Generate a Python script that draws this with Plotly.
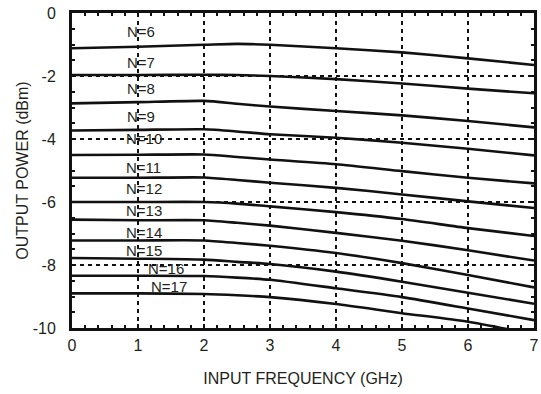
import plotly.graph_objects as go

freq = [0, 1, 2, 2.5, 3, 4, 5, 6, 7]
series_names = ["N=6", "N=7", "N=8", "N=9", "N=10", "N=11", "N=12", "N=13", "N=14", "N=15", "N=16", "N=17"]
n6 = [-1.12, -1.07, -1.01, -0.98, -1.01, -1.12, -1.25, -1.44, -1.65]
n7 = [-1.97, -1.97, -1.96, -1.97, -2.00, -2.10, -2.24, -2.40, -2.55]
n8 = [-2.87, -2.83, -2.79, -2.88, -2.97, -3.11, -3.25, -3.43, -3.63]
n9 = [-3.73, -3.71, -3.69, -3.76, -3.85, -3.96, -4.12, -4.31, -4.52]
n10 = [-4.51, -4.50, -4.49, -4.57, -4.65, -4.80, -5.02, -5.23, -5.41]
n11 = [-5.23, -5.23, -5.22, -5.30, -5.39, -5.55, -5.76, -5.98, -6.19]
n12 = [-6.00, -6.00, -6.00, -6.05, -6.14, -6.32, -6.54, -6.83, -7.08]
n13 = [-6.56, -6.58, -6.58, -6.66, -6.75, -6.98, -7.23, -7.53, -7.86]
n14 = [-7.22, -7.22, -7.22, -7.30, -7.39, -7.62, -7.94, -8.32, -8.71]
n15 = [-7.78, -7.80, -7.83, -7.90, -7.97, -8.21, -8.53, -8.88, -9.23]
n16 = [-8.34, -8.34, -8.35, -8.40, -8.47, -8.74, -9.02, -9.38, -9.75]
n17 = [-8.90, -8.90, -8.92, -8.96, -9.02, -9.24, -9.53, -9.80, -10.20]
all_series = [n6, n7, n8, n9, n10, n11, n12, n13, n14, n15, n16, n17]

label_x = [1.05, 1.05, 1.05, 1.05, 1.09, 1.09, 1.09, 1.09, 1.09, 1.09, 1.43, 1.47]
label_y = [-0.58, -1.56, -2.40, -3.27, -3.99, -4.91, -5.58, -6.26, -6.96, -7.55, -8.10, -8.67]

x_ticks = [0, 1, 2, 3, 4, 5, 6, 7]
x_ticktext = ["0", "1", "2", "3", "4", "5", "6", "7"]
y_ticks = [0, -2, -4, -6, -8, -10]
y_ticktext = ["0", "-2", "-4", "-6", "-8", "-10"]

FONT = "Liberation Sans, Arial, Helvetica, sans-serif"
TXT = "#231f20"

fig = go.Figure()
for name, vals in zip(series_names, all_series):
    fig.add_trace(go.Scatter(x=freq, y=vals, mode="lines", name=name,
                             line=dict(color="#111111", width=2.6, shape="spline", smoothing=0.6),
                             showlegend=False, hoverinfo="skip"))

for name, lx, ly in zip(series_names, label_x, label_y):
    fig.add_annotation(x=lx, y=ly, text=name, showarrow=False,
                       font=dict(family=FONT, size=15, color=TXT),
                       xanchor="center", yanchor="middle", borderpad=0)

axis_common = dict(
    showline=True, linecolor="#111111", linewidth=3, mirror="ticks",
    ticks="inside", tickcolor="#111111", tickwidth=2, ticklen=4,
    showgrid=True, gridcolor="#111111", gridwidth=2, griddash="4px,4px",
    zeroline=False, automargin=False,
    tickfont=dict(family=FONT, size=16, color=TXT),
)

fig.update_layout(
    width=541, height=394,
    margin=dict(l=72, r=7, t=13, b=66),
    paper_bgcolor="white", plot_bgcolor="white",
    xaxis=dict(range=[0, 7], tickvals=x_ticks, ticktext=x_ticktext,
               minor=dict(dtick=0.2, tick0=0, ticks="inside", ticklen=3, tickwidth=1.5,
                          tickcolor="#111111", showgrid=False),
               ticklabelstandoff=1,
               title=dict(text="INPUT FREQUENCY (GHz)", font=dict(family=FONT, size=16, color=TXT), standoff=20),
               **axis_common),
    yaxis=dict(range=[-10, 0], tickvals=y_ticks, ticktext=y_ticktext,
               minor=dict(dtick=0.5, tick0=0, ticks="inside", ticklen=3, tickwidth=1.5,
                          tickcolor="#111111", showgrid=False),
               ticklabelstandoff=10,
               title=dict(text="OUTPUT POWER (dBm)", font=dict(family=FONT, size=16, color=TXT), standoff=1),
               **axis_common),
)

fig.write_html("out.html")
